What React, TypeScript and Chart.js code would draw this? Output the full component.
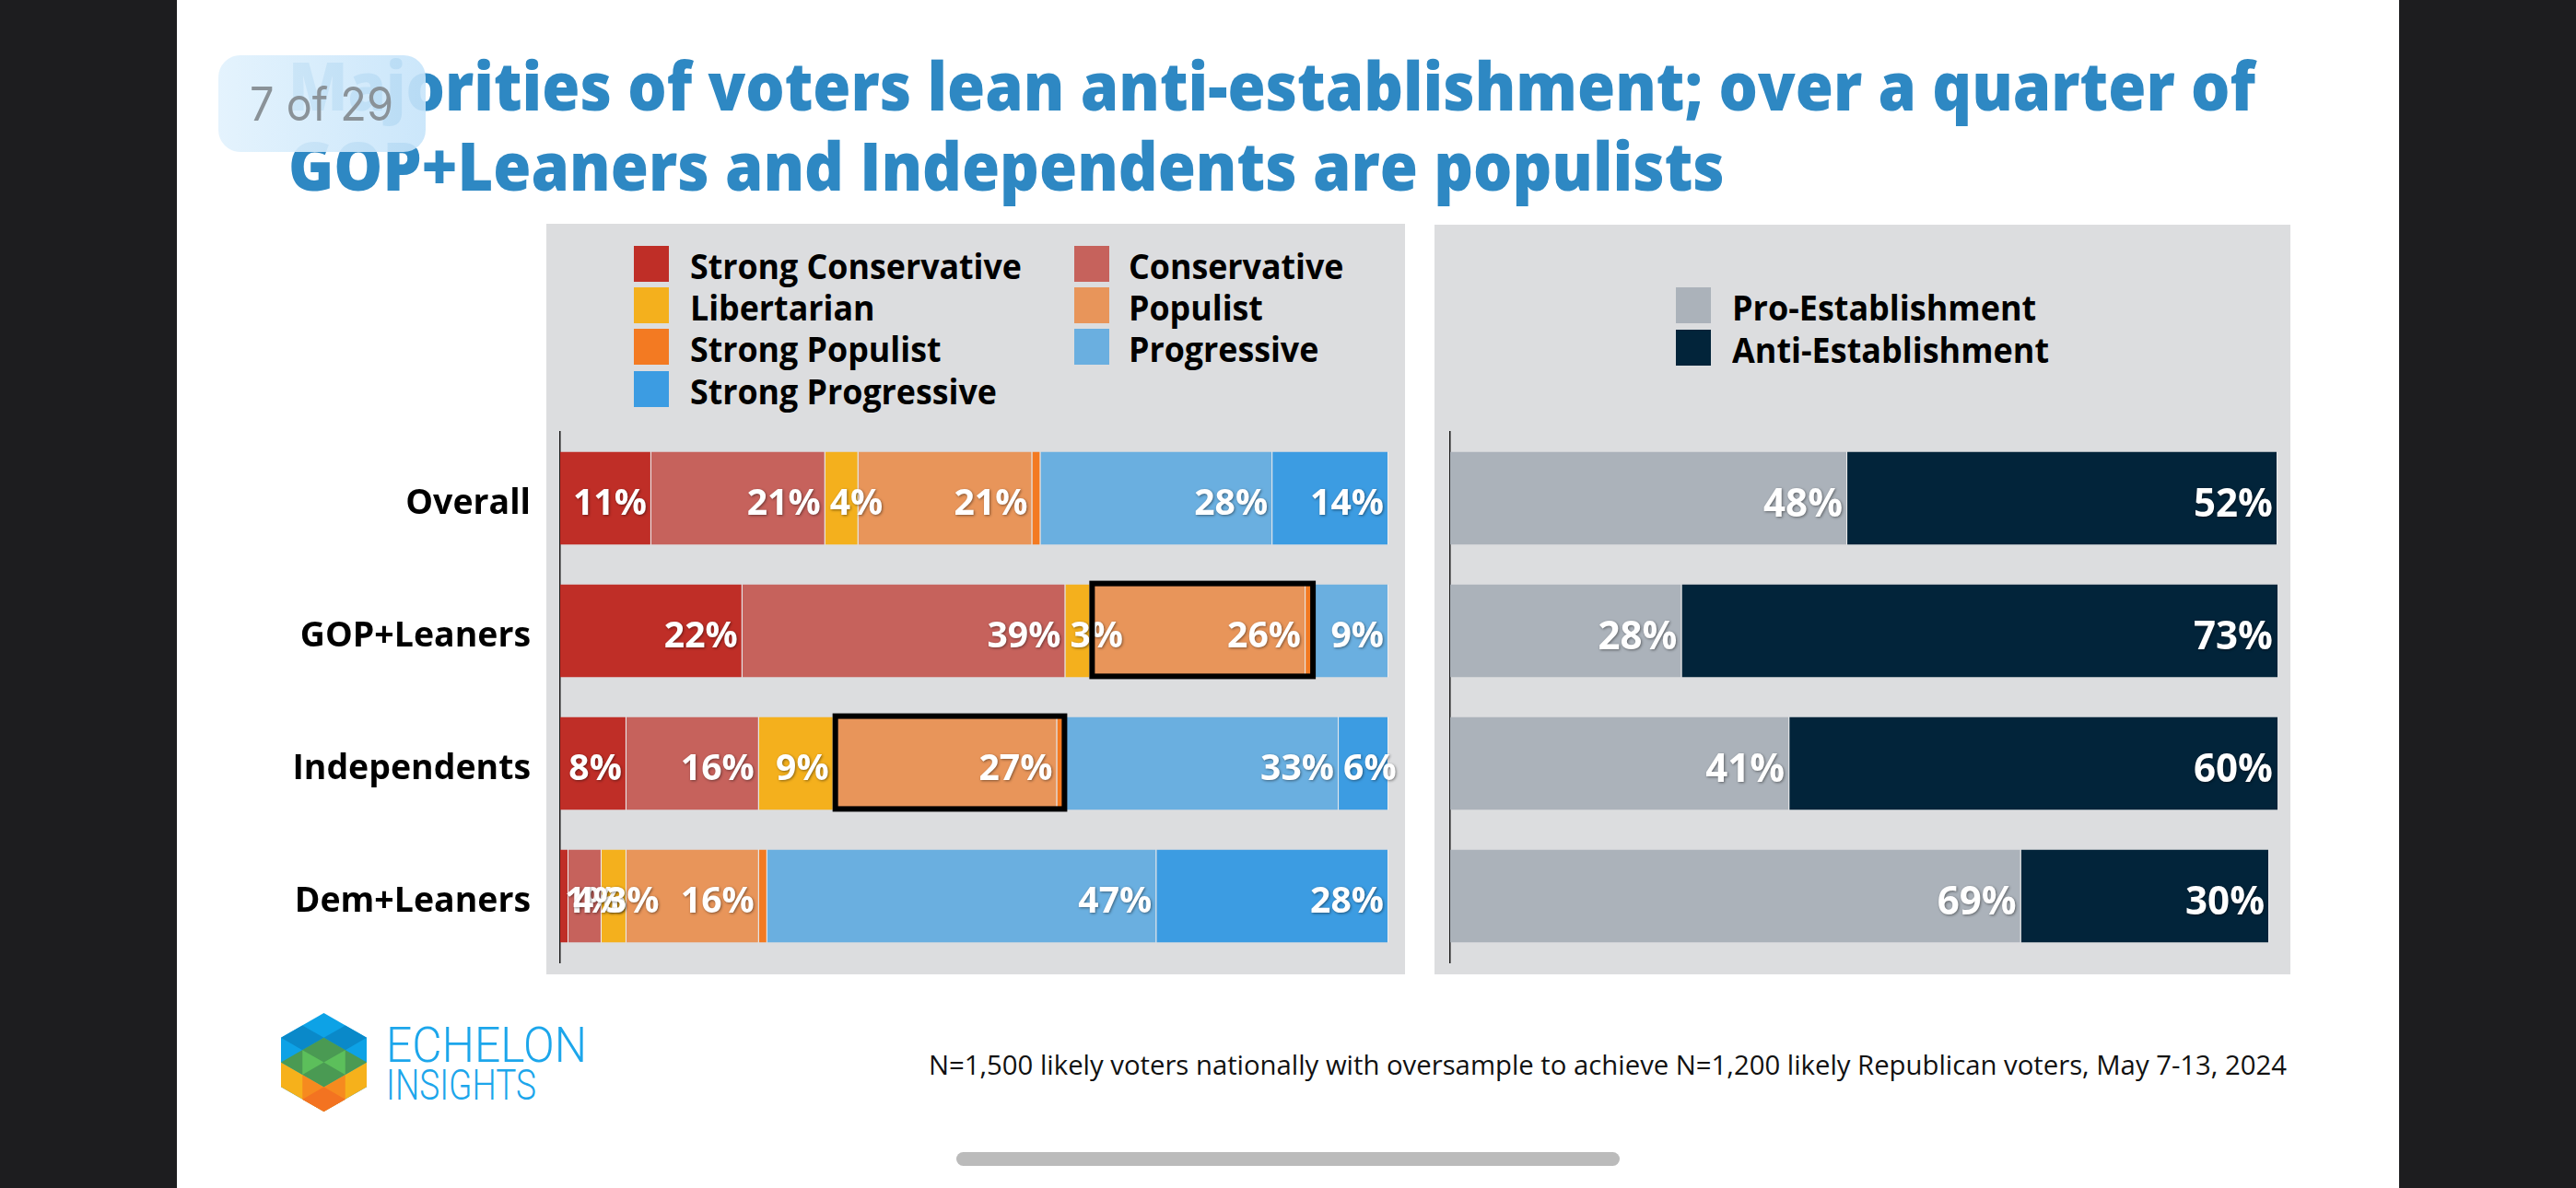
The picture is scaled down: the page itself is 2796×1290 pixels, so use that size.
import React, { useEffect, useRef } from 'react';
import { Chart, registerables } from 'chart.js';

Chart.register(...registerables);

const FONT = '"Open Sans", "Noto Sans", sans-serif';

// ---------------- data ----------------
const categories = ['Overall', 'GOP+Leaners', 'Independents', 'Dem+Leaners'];

const typologyNames = [
  'Strong Conservative',
  'Conservative',
  'Libertarian',
  'Populist',
  'Strong Populist',
  'Progressive',
  'Strong Progressive',
];
const typologyColors = ['#BF2E27', '#C6625C', '#F4B01D', '#E8955A', '#F37A22', '#6AAFE0', '#3C9CE2'];
const strongConservative = [11, 22, 8, 1];
const conservative = [21, 39, 16, 4];
const libertarian = [4, 3, 9, 3];
const populist = [21, 26, 27, 16];
const strongPopulist = [1, 1, 1, 1];
const progressive = [28, 9, 33, 47];
const strongProgressive = [14, 0, 6, 28];
const typologyValues = [
  strongConservative,
  conservative,
  libertarian,
  populist,
  strongPopulist,
  progressive,
  strongProgressive,
];
const unlabeledTypologies = ['Strong Populist'];
const highlightedGroups = ['GOP+Leaners', 'Independents'];
const highlightedTypologies = ['Populist', 'Strong Populist'];

const establishmentNames = ['Pro-Establishment', 'Anti-Establishment'];
const establishmentColors = ['#ABB2BA', '#02243A'];
const proEstablishment = [48, 28, 41, 69];
const antiEstablishment = [52, 73, 60, 30];
const establishmentValues = [proEstablishment, antiEstablishment];

const titleLines = [
  'Majorities of voters lean anti-establishment; over a quarter of',
  'GOP+Leaners and Independents are populists',
];
const footnote =
  'N=1,500 likely voters nationally with oversample to achieve N=1,200 likely Republican voters, May 7-13, 2024';

// ---------------- helpers ----------------
let mctx: CanvasRenderingContext2D | null = null;
function measure(text: string, font: string) {
  if (!mctx) mctx = document.createElement('canvas').getContext('2d');
  const c = mctx as CanvasRenderingContext2D;
  c.font = font;
  const m = c.measureText(text);
  return { w: m.width, a: m.fontBoundingBoxAscent, d: m.fontBoundingBoxDescent };
}

function Txt(props: any) {
  const { x, base, text, size, weight = 400, color = '#000', family = FONT, fit, scale, align = 'left' } = props;
  const font = `${weight} ${size}px ${family}`;
  const m = measure(text, font);
  const sx = fit ? fit / m.w : scale ?? 1;
  const top = base - ((size - (m.a + m.d)) / 2 + m.a);
  const left = align === 'right' ? x - m.w * sx : x;
  return (
    <div
      style={{
        position: 'absolute',
        left,
        top,
        fontFamily: family,
        fontSize: size,
        fontWeight: weight,
        lineHeight: `${size}px`,
        color,
        whiteSpace: 'nowrap',
        transform: `scaleX(${sx})`,
        transformOrigin: '0 0',
      }}
    >
      {text}
    </div>
  );
}

const segLabels = {
  id: 'segLabels',
  afterDatasetsDraw(chart: any, _args: any, opts: any) {
    const { ctx, chartArea } = chart;
    ctx.save();
    ctx.font = `700 ${opts.size}px ${FONT}`;
    ctx.fillStyle = '#FFFFFF';
    ctx.textBaseline = 'alphabetic';
    ctx.shadowColor = 'rgba(0,0,0,0.45)';
    ctx.shadowBlur = 3;
    ctx.shadowOffsetX = 1;
    ctx.shadowOffsetY = 1;
    const asc = ctx.measureText('0').actualBoundingBoxAscent;
    const pad = 5;
    chart.data.datasets.forEach((ds: any, di: number) => {
      if ((opts.skip || []).includes(ds.label)) return;
      const meta = chart.getDatasetMeta(di);
      meta.data.forEach((bar: any, i: number) => {
        const v = ds.data[i];
        if (!v) return;
        const p = bar.getProps(['x', 'y', 'base'], true);
        const start = Math.min(p.base, p.x);
        const end = Math.min(Math.max(p.base, p.x), chartArea.right);
        const text = `${v}%`;
        const w = ctx.measureText(text).width;
        const yb = p.y + asc / 2 + 4;
        if (w + pad <= end - start) {
          ctx.textAlign = 'right';
          ctx.fillText(text, end - pad, yb);
        } else {
          ctx.textAlign = 'left';
          ctx.fillText(text, start + pad, yb);
        }
      });
    });
    ctx.restore();
  },
};

const highlightBox = {
  id: 'highlightBox',
  afterDraw(chart: any, _args: any, opts: any) {
    if (!opts || !opts.groups) return;
    const { ctx } = chart;
    const labels = chart.data.labels as string[];
    const dsIdx = chart.data.datasets
      .map((d: any, i: number) => (opts.segments.includes(d.label) ? i : -1))
      .filter((i: number) => i >= 0);
    if (!dsIdx.length) return;
    ctx.save();
    ctx.strokeStyle = '#000000';
    ctx.lineWidth = 6;
    opts.groups.forEach((g: string) => {
      const ci = labels.indexOf(g);
      if (ci < 0) return;
      const a = chart.getDatasetMeta(dsIdx[0]).data[ci].getProps(['x', 'y', 'base', 'height'], true);
      const b = chart.getDatasetMeta(dsIdx[dsIdx.length - 1]).data[ci].getProps(['x', 'y', 'base', 'height'], true);
      const x0 = a.base - 1;
      const x1 = b.x + 2;
      const y0 = a.y - a.height / 2 - 4;
      const y1 = a.y + a.height / 2 + 2;
      ctx.strokeRect(x0 + 3, y0 + 3, x1 - x0 - 6, y1 - y0 - 6);
    });
    ctx.restore();
  },
};

function BarPanel(props: any) {
  const { left, top, width, height, padding, axisWidth, names, colors, values, showTicks, tickSize, labelSize, skip, highlight } = props;
  const ref = useRef<HTMLCanvasElement>(null);
  useEffect(() => {
    const chart = new Chart(ref.current as HTMLCanvasElement, {
      type: 'bar',
      data: {
        labels: categories,
        datasets: names.map((n: string, i: number) => ({
          label: n,
          data: values[i],
          backgroundColor: colors[i],
          borderColor: 'rgba(255,255,255,0.5)',
          borderWidth: { top: 0, bottom: 0, left: 0, right: 1 },
          borderSkipped: false,
          categoryPercentage: 1,
          barPercentage: 0.7,
          clip: 0,
        })),
      },
      options: {
        indexAxis: 'y',
        responsive: false,
        maintainAspectRatio: false,
        animation: false,
        layout: { padding },
        plugins: {
          legend: { display: false },
          tooltip: { enabled: false },
          segLabels: { size: labelSize, skip },
          highlightBox: highlight,
        } as any,
        scales: {
          x: { stacked: true, min: 0, max: 100, display: false },
          y: {
            stacked: true,
            grid: { display: false, drawTicks: false },
            border: { display: true, color: '#1A1A1A', width: 1.5 },
            ticks: {
              display: showTicks,
              padding: 32,
              labelOffset: 6,
              color: '#000000',
              font: { family: FONT, weight: 'bold', size: tickSize },
            },
            afterFit: (s: any) => {
              s.width = axisWidth;
              s.paddingTop = 0;
              s.paddingBottom = 0;
            },
          },
        },
      } as any,
      plugins: [segLabels, highlightBox],
    });
    return () => chart.destroy();
  }, []);
  return (
    <canvas
      ref={ref}
      width={width}
      height={height}
      style={{ position: 'absolute', left, top, width, height }}
    />
  );
}

function Legend(props: any) {
  const { names, colors, colX, textX, rowTop, scale } = props;
  return (
    <>
      {names.map((n: string, i: number) => {
        const c = i % colX.length;
        const r = Math.floor(i / colX.length);
        return (
          <React.Fragment key={n}>
            <div style={{ position: 'absolute', left: colX[c], top: rowTop[r], width: 38, height: 39, background: colors[i] }} />
            <Txt x={textX[c]} base={rowTop[r] + 36} text={n} size={37} weight={700} scale={scale} />
          </React.Fragment>
        );
      })}
    </>
  );
}

function Logo() {
  return (
    <>
      <svg
        style={{ position: 'absolute', left: 305, top: 1100 }}
        width={93}
        height={107}
        viewBox="0 0 4 8"
        preserveAspectRatio="none"
      >
        <polygon points="2,0 4,2 4,6 2,8 0,6 0,2" fill="#0DA2E6" />
        <polygon points="1,1 2,2 1,3 0,2" fill="#0A89C9" />
        <polygon points="3,1 4,2 3,3 2,2" fill="#0A89C9" />
        <polygon points="0,4 2,6 4,4 4,6 2,8 0,6" fill="#F6B11B" />
        <polygon points="1,5 2,6 3,5 3,7 2,8 1,7" fill="#F68A1F" />
        <polygon points="2,6 3,7 2,8 1,7" fill="#F37321" />
        <polygon points="2,2 4,4 2,6 0,4" fill="#4A9A53" />
        <polygon points="1,3 2,4 1,5" fill="#5CBF5B" />
        <polygon points="3,3 2,4 3,5" fill="#5CBF5B" />
      </svg>
      <Txt x={419} base={1153} text="ECHELON" size={54} weight={300} family="Roboto, sans-serif" color="#1CA6EB" fit={218} />
      <Txt x={419} base={1194} text="INSIGHTS" size={46} weight={300} family="Roboto, sans-serif" color="#1CA6EB" fit={163} />
    </>
  );
}

export default function App() {
  const titleFont = `800 73px ${FONT}`;
  const titleScale = 2135 / measure(titleLines[0], titleFont).w;
  const tickBase = categories.reduce((s, c) => s + measure(c, `700 36px ${FONT}`).w, 0);
  const tickSize = (36 * 901) / tickBase;
  const leftLabelSize = (37 * 80) / measure('28%', `700 37px ${FONT}`).w;
  const rightLabelSize = (37 * 86) / measure('48%', `700 37px ${FONT}`).w;
  const leftLegendScale = 360 / measure('Strong Conservative', `700 37px ${FONT}`).w;
  const rightLegendScale = 344 / measure('Anti-Establishment', `700 37px ${FONT}`).w;

  return (
    <div
      style={{
        position: 'absolute',
        left: 0,
        top: 0,
        width: 2796,
        height: 1290,
        background: '#1D1D1F',
        overflow: 'hidden',
        fontFamily: FONT,
      }}
    >
      <div style={{ position: 'absolute', left: 192, top: 0, width: 2412, height: 1290, background: '#FFFFFF' }} />

      {titleLines.map((t, i) => (
        <Txt key={t} x={313} base={120 + i * 87} text={t} size={73} weight={800} color="#2E88C3" scale={titleScale} />
      ))}

      <div style={{ position: 'absolute', left: 593, top: 243, width: 932, height: 815, background: '#DCDDDF' }} />
      <div style={{ position: 'absolute', left: 1557, top: 244, width: 929, height: 814, background: '#DCDDDF' }} />

      <Legend
        names={typologyNames}
        colors={typologyColors}
        colX={[688, 1166]}
        textX={[749, 1225]}
        rowTop={[267, 312, 357, 403]}
        scale={leftLegendScale}
      />
      <Legend
        names={establishmentNames}
        colors={establishmentColors}
        colX={[1819]}
        textX={[1880]}
        rowTop={[312, 358]}
        scale={rightLegendScale}
      />

      <BarPanel
        left={300}
        top={440}
        width={1230}
        height={620}
        padding={{ top: 29, bottom: 15, left: 0, right: 23 }}
        axisWidth={308}
        names={typologyNames}
        colors={typologyColors}
        values={typologyValues}
        showTicks={true}
        tickSize={tickSize}
        labelSize={leftLabelSize}
        skip={unlabeledTypologies}
        highlight={{ groups: highlightedGroups, segments: highlightedTypologies }}
      />
      <BarPanel
        left={1560}
        top={440}
        width={930}
        height={620}
        padding={{ top: 29, bottom: 15, left: 0, right: 18 }}
        axisWidth={14}
        names={establishmentNames}
        colors={establishmentColors}
        values={establishmentValues}
        showTicks={false}
        tickSize={tickSize}
        labelSize={rightLabelSize}
        skip={[]}
        highlight={{ groups: [], segments: [] }}
      />

      <Logo />
      <Txt x={2482} base={1167} text={footnote} size={30} weight={400} color="#111111" fit={1474} align="right" />

      <div
        style={{
          position: 'absolute',
          left: 237,
          top: 60,
          width: 225,
          height: 105,
          borderRadius: 24,
          background: 'linear-gradient(90deg, rgba(226,242,253,0.93), rgba(198,228,250,0.9))',
        }}
      />
      <Txt x={271} base={131} text="7 of 29" size={50} weight={400} family="Inter, Roboto, sans-serif" color="#8A9298" fit={156} />

      <div style={{ position: 'absolute', left: 1038, top: 1251, width: 720, height: 15, borderRadius: 8, background: '#BBBBBB' }} />
    </div>
  );
}
